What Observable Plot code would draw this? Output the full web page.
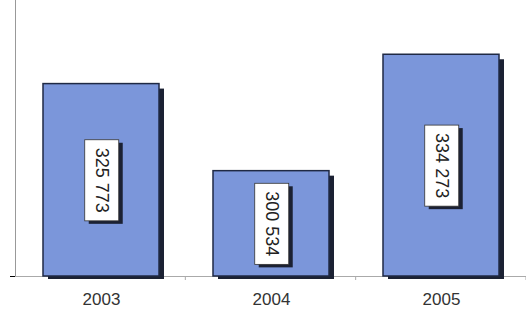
<!DOCTYPE html>
<html>
<head>
<meta charset="utf-8">
<script src="https://cdn.jsdelivr.net/npm/d3@7"></script>
<script src="https://cdn.jsdelivr.net/npm/@observablehq/plot@0.6"></script>
<style>
  html, body { margin: 0; padding: 0; background: #fff; }
  #chart { width: 526px; height: 310px; overflow: hidden; }
  svg { display: block; }
</style>
</head>
<body>
<div id="chart"></div>
<script>
const years = ["2003", "2004", "2005"];
const values = [325773, 300534, 334273];
const labels = ["325 773", "300 534", "334 273"];
const yMin = 270000;
const yMax = 350000;

const data = years.map((y, i) => ({year: y, value: values[i], label: labels[i]}));

const W = 526, H = 310, ML = 15, MR = 0, MT = 0, MB = 34;
const barFill = "#7b96da";
const shadow = "#1b2133";

const plot = Plot.plot({
  width: W,
  height: H,
  marginLeft: ML,
  marginRight: MR,
  marginTop: MT,
  marginBottom: MB,
  style: {background: "#fff", fontFamily: "Arial, 'Liberation Sans', sans-serif"},
  x: {domain: years, paddingInner: 0.32, paddingOuter: 0.16, tickSize: 0, tickPadding: 16, label: null, fontSize: 17},
  y: {domain: [yMin, yMax], ticks: [yMin], tickSize: 5, tickFormat: () => "", line: true, label: null},
  marks: [
    Plot.ruleY([yMin], {stroke: "#aaa", strokeWidth: 1}),
    Plot.barY(data, {x: "year", y1: yMin, y2: "value", fill: shadow, dx: 5, dy: 3, insetTop: 2}),
    Plot.barY(data, {x: "year", y1: yMin, y2: "value", fill: barFill, stroke: "#1f2944", strokeWidth: 1.5}),
    Plot.text(data, {x: "year", y: d => (d.value + yMin) / 2, text: "label", rotate: 90, fontSize: 18, fill: "#222", className: "vallabel"})
  ]
});

document.getElementById("chart").appendChild(plot);

// style axis text and line
d3.select(plot).selectAll("[aria-label='x-axis tick label'] text, g[aria-label='x-axis tick label'] text").attr("fill", "#333").style("font-size", "17px");
d3.select(plot).selectAll("text").filter(function(){ return !this.closest(".vallabel"); }).style("font-size", "17px").attr("fill", "#333");
d3.select(plot).selectAll("[aria-label='y-axis line'] , [aria-label='frame']").attr("stroke", "#999");

// white boxes behind value labels
const svgRect = plot.getBoundingClientRect();
const labelGroup = plot.querySelector(".vallabel") || plot.querySelector("g[aria-label='text']");
if (labelGroup) {
  const boxes = d3.create("svg:g");
  labelGroup.querySelectorAll("text").forEach(t => {
    const r = t.getBoundingClientRect();
    const cx = r.left - svgRect.left + r.width / 2;
    const cy = r.top - svgRect.top + r.height / 2;
    const bw = 34, bh = r.height + 16;
    boxes.append("rect").attr("x", cx - bw / 2 + 4).attr("y", cy - bh / 2 + 3).attr("width", bw).attr("height", bh).attr("fill", shadow);
    boxes.append("rect").attr("x", cx - bw / 2).attr("y", cy - bh / 2).attr("width", bw).attr("height", bh).attr("fill", "#fff").attr("stroke", "#333").attr("stroke-width", 0.8);
  });
  labelGroup.parentNode.insertBefore(boxes.node(), labelGroup);
}

// small tick marks at category boundaries on the baseline
const step = (W - ML - MR) / years.length;
const baseY = H - MB;
const ticks = d3.select(plot).append("g").attr("stroke", "#aaa");
for (let i = 1; i <= years.length; i++) {
  const x = ML + i * step;
  ticks.append("line").attr("x1", x).attr("x2", x).attr("y1", baseY).attr("y2", baseY + 4);
}
</script>
</body>
</html>
